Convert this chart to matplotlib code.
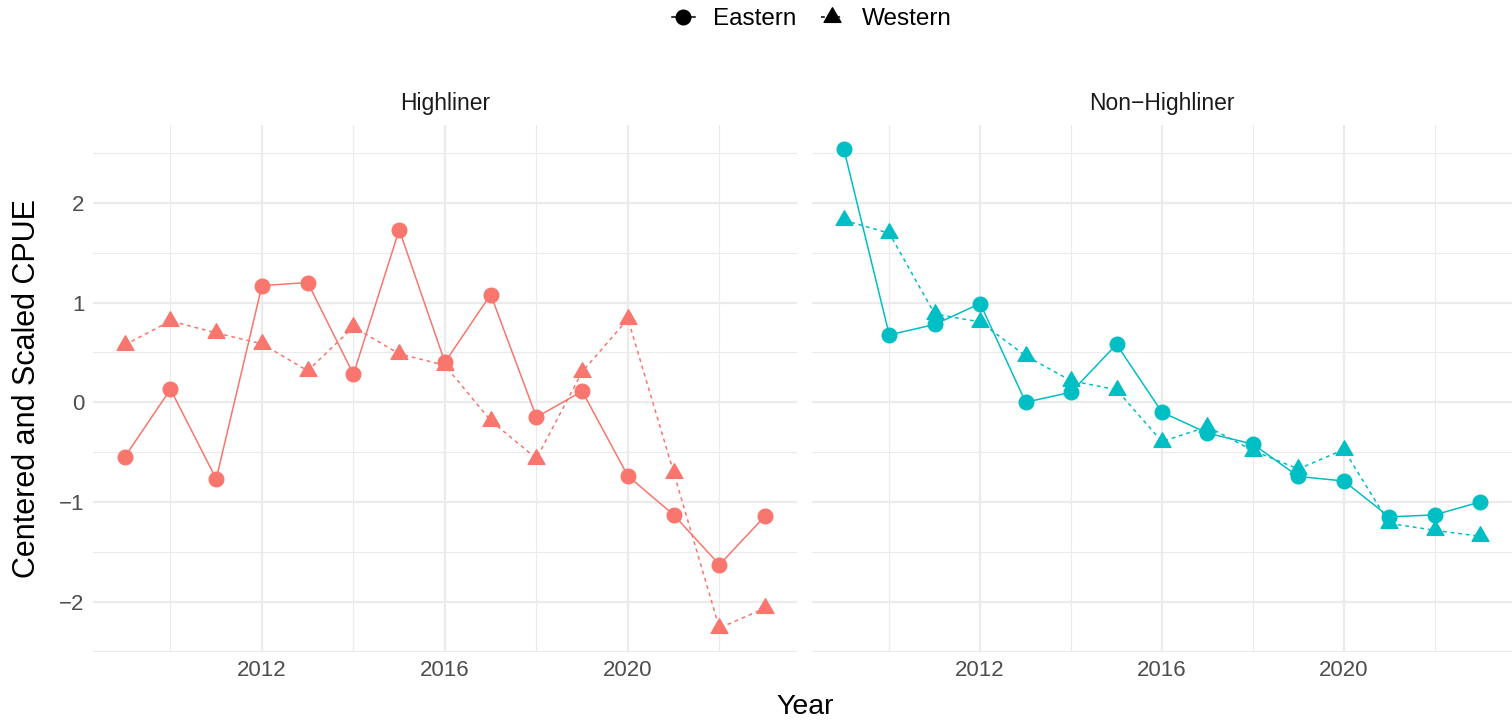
import numpy as np
import matplotlib
matplotlib.use("Agg")
import matplotlib.pyplot as plt
from matplotlib.path import Path
from matplotlib.lines import Line2D
from matplotlib.ticker import FixedLocator, FuncFormatter

plt.rcParams['font.family'] = ['Liberation Sans', 'DejaVu Sans']

years = list(range(2009, 2024))

highliner_eastern = [-0.55, 0.13, -0.77, 1.17, 1.20, 0.28, 1.73, 0.40, 1.08, -0.15,
                     0.11, -0.74, -1.13, -1.63, -1.14]
highliner_western = [0.575, 0.815, 0.695, 0.585, 0.315, 0.755, 0.485, 0.37, -0.185, -0.565,
                     0.305, 0.835, -0.705, -2.265, -2.065]
non_highliner_eastern = [2.54, 0.675, 0.78, 0.99, 0.0, 0.10, 0.58, -0.10, -0.31, -0.42,
                         -0.745, -0.79, -1.15, -1.13, -1.00]
non_highliner_western = [1.825, 1.695, 0.885, 0.805, 0.465, 0.215, 0.125, -0.395, -0.245, -0.485,
                         -0.67, -0.475, -1.215, -1.285, -1.345]

panel_titles = ["Highliner", "Non\u2212Highliner"]
panel_colors = ["#F8766D", "#00BFC4"]
region_labels = ["Eastern", "Western"]

x_major = [2012, 2016, 2020]
x_minor = [2010, 2014, 2018, 2022]
y_major = [-2, -1, 0, 1, 2]
y_minor = [-2.5, -1.5, -0.5, 0.5, 1.5, 2.5]

# triangle with its centroid at the origin (like R's pch 17)
tri = Path([(0, 1), (-0.866, -0.5), (0.866, -0.5), (0, 1)],
           [Path.MOVETO, Path.LINETO, Path.LINETO, Path.CLOSEPOLY])

W, H = 1512, 721
fig = plt.figure(figsize=(W / 100, H / 100), dpi=100)

panel_data = [(highliner_eastern, highliner_western),
              (non_highliner_eastern, non_highliner_western)]

all_vals = np.concatenate([np.array(v) for pair in panel_data for v in pair])
ymin, ymax = all_vals.min(), all_vals.max()
yexp = 0.05 * (ymax - ymin)
xexp = 0.05 * (max(years) - min(years))

left_px = [92.7, 812]
width_px = [704.5, 700]
top_px, bot_px = 125, 652

dash = (0, (2.5, 2.5))
circ_size, tri_size = 10.5, 14

for i in range(2):
    ax = fig.add_axes([left_px[i] / W, (H - bot_px) / H, width_px[i] / W, (bot_px - top_px) / H])
    east, west = panel_data[i]
    c = panel_colors[i]
    ax.plot(years, east, color=c, lw=1.1, marker='o', markersize=circ_size, zorder=3)
    ax.plot(years, west, color=c, lw=1.1, ls=dash, marker=tri, markersize=tri_size, zorder=3)
    ax.set_xlim(min(years) - xexp, max(years) + xexp)
    ax.set_ylim(ymin - yexp, ymax + yexp)
    ax.xaxis.set_major_locator(FixedLocator(x_major))
    ax.xaxis.set_minor_locator(FixedLocator(x_minor))
    ax.yaxis.set_major_locator(FixedLocator(y_major))
    ax.yaxis.set_minor_locator(FixedLocator(y_minor))
    ax.grid(which='major', color='#EBEBEB', lw=1.6, zorder=0)
    ax.grid(which='minor', color='#EBEBEB', lw=0.8, zorder=0)
    ax.set_axisbelow(True)
    for s in ax.spines.values():
        s.set_visible(False)
    ax.tick_params(which='both', length=0, labelsize=16, labelcolor='#4D4D4D', pad=6)
    ax.yaxis.set_major_formatter(FuncFormatter(lambda v, p: f"{int(v)}".replace('-', '\u2212')))
    if i == 1:
        ax.tick_params(axis='y', labelleft=False)
    ax.set_title(panel_titles[i], fontsize=16.5, color='#1A1A1A', pad=11)

fig.text(805 / W, 1 - 707 / H, "Year", ha='center', va='center', fontsize=20.5, color='black')
fig.text(27 / W, 1 - 388 / H, "Centered and Scaled CPUE", ha='center', va='center',
         rotation=90, fontsize=22, color='black')

handles = [Line2D([], [], color='black', lw=1.1, marker='o', markersize=circ_size),
           Line2D([], [], color='black', lw=1.1, ls=dash, marker=tri, markersize=tri_size)]
fig.legend(handles, region_labels, loc='center', bbox_to_anchor=(812 / W, 1 - 19 / H), ncol=2,
           frameon=False, fontsize=17.5, handlelength=0.95, handletextpad=0.75, columnspacing=1.0)

fig.savefig("out.png", dpi=100, facecolor='white')
